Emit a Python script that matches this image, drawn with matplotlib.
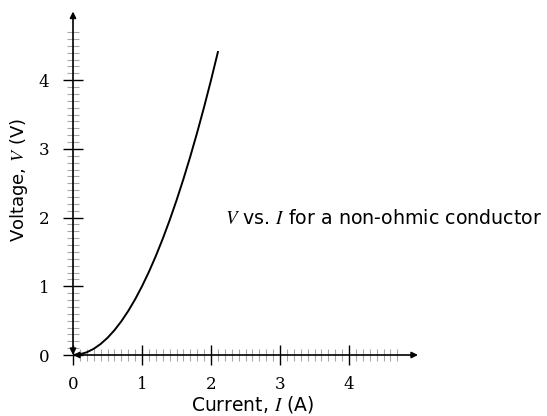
import numpy as np
import matplotlib
matplotlib.use('Agg')
from matplotlib import pyplot as plt

# values
current = [0.0, 0.1, 0.2, 0.3, 0.4, 0.5, 0.6, 0.7, 0.8, 0.9, 1.0,
           1.1, 1.2, 1.3, 1.4, 1.5, 1.6, 1.7, 1.8, 1.9, 2.0, 2.1]
voltage = [0.0, 0.01, 0.04, 0.09, 0.16, 0.25, 0.36, 0.49, 0.64, 0.81, 1.0,
           1.21, 1.44, 1.69, 1.96, 2.25, 2.56, 2.89, 3.24, 3.61, 4.0, 4.41]
major_ticks = [0, 1, 2, 3, 4]
tick_labels = ['0', '1', '2', '3', '4']
minor_ticks = [i / 10 for i in range(48)]
note = r'$V$ vs. $I$ for a non-ohmic conductor'
xlabel = r'Current, $I$ (A)'
ylabel = r'Voltage, $V$ (V)'

plt.rcParams['mathtext.fontset'] = 'stix'
sans = 'DejaVu Sans'
serif = 'DejaVu Serif'

fig = plt.figure(figsize=(5.47, 4.16), dpi=100)
ax = fig.add_axes([73/547, 61/416, 345/547, 343.5/416])
ax.set_xlim(0, 5)
ax.set_ylim(0, 5)
ax.patch.set_alpha(0)
for s in ax.spines.values():
	s.set_visible(False)

# axes with arrows on both ends
arr = dict(arrowstyle='<|-|>', color='k', lw=1.2, mutation_scale=9, shrinkA=0, shrinkB=0)
ax.annotate('', xy=(5, 0), xytext=(0, 0), arrowprops=arr, annotation_clip=False)
ax.annotate('', xy=(0, 5), xytext=(0, 0), arrowprops=arr, annotation_clip=False)

ax.set_xticks(major_ticks)
ax.set_yticks(major_ticks)
ax.set_xticklabels(tick_labels, fontfamily=serif, fontsize=12)
ax.set_yticklabels(tick_labels, fontfamily=serif, fontsize=12)
ax.set_xticks(minor_ticks, minor=True)
ax.set_yticks(minor_ticks, minor=True)
ax.tick_params(which='major', direction='inout', length=14, width=1.0, color='k')
ax.tick_params(axis='x', which='major', pad=8)
ax.tick_params(axis='y', which='major', pad=10)
ax.tick_params(which='minor', direction='inout', length=9, width=0.8, color='#a8a8a8')

ax.plot(current, voltage, color='k', lw=1.4, zorder=5)

ax.text(2.2, 1.98, note, fontsize=13.7, fontfamily=sans, va='center', ha='left')
ax.set_xlabel(xlabel, fontsize=13.5, fontfamily=sans, va='center')
ax.set_ylabel(ylabel, fontsize=13, fontfamily=sans, va='center')
ax.xaxis.set_label_coords(0.52, -0.143)
ax.yaxis.set_label_coords(-0.157, 0.51)

fig.savefig('out.png', dpi=100)
